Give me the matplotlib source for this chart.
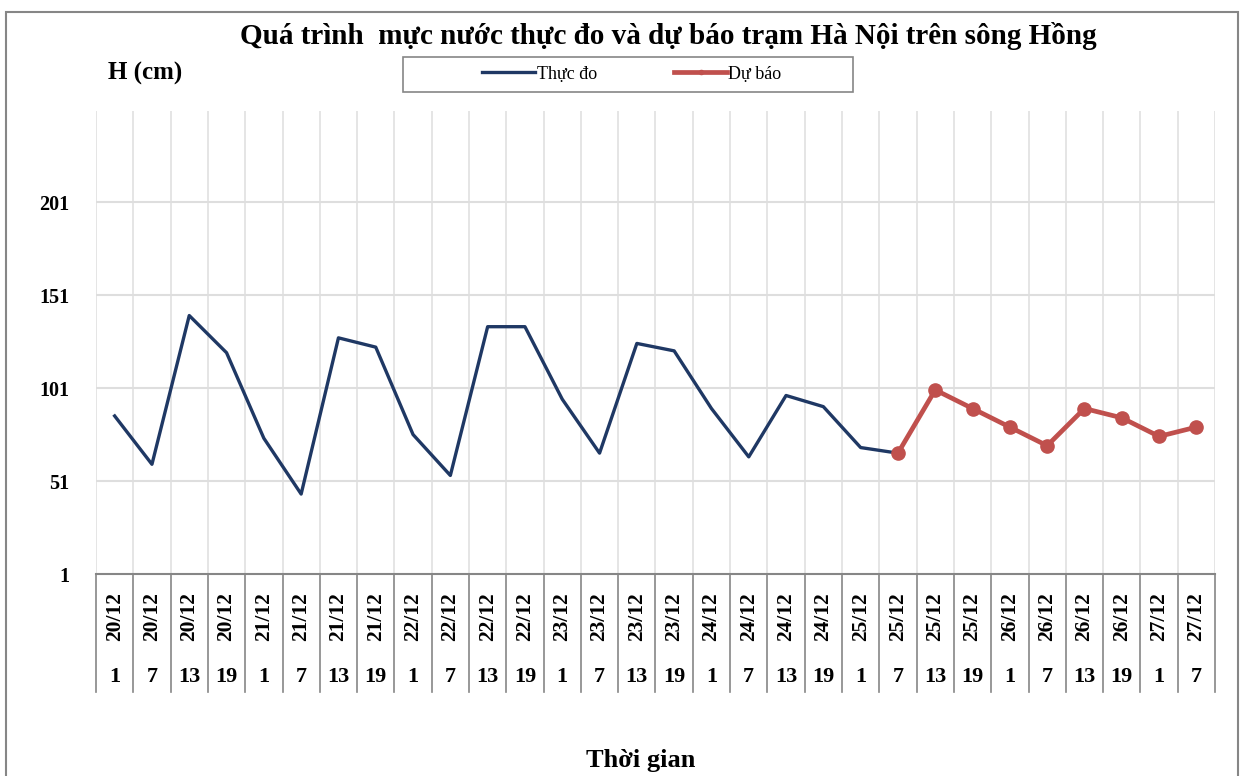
import matplotlib.pyplot as plt
from matplotlib.patches import Rectangle
from matplotlib.lines import Line2D
import matplotlib.transforms as mtransforms

days = ["20/12"] * 4 + ["21/12"] * 4 + ["22/12"] * 4 + ["23/12"] * 4 + \
       ["24/12"] * 4 + ["25/12"] * 4 + ["26/12"] * 4 + ["27/12"] * 2
hours = ["1", "7", "13", "19"] * 7 + ["1", "7"]

# water level (cm)
thuc_do = [86, 60, 140, 120, 74, 44, 128, 123, 76, 54, 134, 134, 95, 66,
           125, 121, 90, 64, 97, 91, 69, 66]
du_bao = [66, 100, 90, 80, 70, 90, 85, 75, 80]
du_bao_start = len(thuc_do) - 1

yticks = [1, 51, 101, 151, 201]

navy = "#1F3864"
red = "#C0504D"
grid_c = "#DEDEDE"
axis_c = "#868686"
serif = "Liberation Serif"

fig = plt.figure(figsize=(12.41, 7.76), dpi=100)
ax = fig.add_axes([96 / 1241, 1 - 574 / 776, (1215 - 96) / 1241, (574 - 111) / 776])

n = len(days)
x_obs = list(range(len(thuc_do)))
x_fc = list(range(du_bao_start, du_bao_start + len(du_bao)))

ax.plot(x_obs, thuc_do, color=navy, lw=2.4, zorder=3)
ax.plot(x_fc, du_bao, color=red, lw=3.4, marker="o", ms=9.5, zorder=4)

ax.set_xlim(-0.5, n - 0.5)
ax.set_ylim(1, 250)
ax.set_yticks(yticks)
ax.set_yticklabels([str(v) for v in yticks], fontfamily=serif,
                   fontweight="bold", fontsize=14.5)
ax.tick_params(axis="y", length=0, pad=19)
ax.set_xticks([])

for v in yticks[1:]:
    ax.axhline(v, color=grid_c, lw=1.5, zorder=1)
for i in range(n + 1):
    ax.axvline(i - 0.5, color=grid_c, lw=1.1, zorder=1)

for s in ["top", "right", "left"]:
    ax.spines[s].set_visible(False)
ax.spines["bottom"].set_color(axis_c)
ax.spines["bottom"].set_linewidth(1.5)

# category label table under the axis
trans = mtransforms.blended_transform_factory(ax.transData, ax.transAxes)
bottom = -(692 - 574) / 463
for i in range(n + 1):
    ax.add_line(Line2D([i - 0.5, i - 0.5], [0, bottom], transform=trans,
                       color=axis_c, lw=1.2, clip_on=False))
for i in range(n):
    ax.text(i, -(617 - 574) / 463, days[i], transform=trans, rotation=90,
            ha="center", va="center", fontfamily=serif, fontweight="bold",
            fontsize=15.5)
    ax.text(i, -(677 - 574) / 463, hours[i], transform=trans,
            ha="center", va="center", fontfamily=serif, fontweight="bold",
            fontsize=16)

fig.text(668 / 1241, 1 - 36 / 776,
         "Quá trình  mực nước thực đo và dự báo trạm Hà Nội trên sông Hồng",
         ha="center", va="center", fontfamily=serif, fontweight="bold",
         fontsize=21)
fig.text(108 / 1241, 1 - 73 / 776, "H (cm)", ha="left", va="center",
         fontfamily=serif, fontweight="bold", fontsize=18)
fig.text(641 / 1241, 1 - 761 / 776, "Thời gian", ha="center", va="center",
         fontfamily=serif, fontweight="bold", fontsize=19)

# legend box
fig.patches.append(Rectangle((403 / 1241, 1 - 92 / 776), 450 / 1241, 35 / 776,
                             transform=fig.transFigure, fill=False,
                             edgecolor=axis_c, lw=1.2))
handles = [Line2D([], [], color=navy, lw=2.4),
           Line2D([], [], color=red, lw=3.4, marker="o", ms=3)]
fig.legend(handles, ["Thực đo", "Dự báo"], loc="center",
           bbox_to_anchor=(632 / 1241, 1 - 74 / 776), ncol=2, frameon=False,
           handlelength=2.9, handletextpad=0.1, columnspacing=4.3,
           prop={"family": serif, "size": 13})

# outer chart border
fig.patches.append(Rectangle((6 / 1241, -0.05), 1232 / 1241, 1.05 - 12 / 776,
                             transform=fig.transFigure, fill=False,
                             edgecolor=axis_c, lw=1.5))

fig.savefig("out.png", dpi=100)
